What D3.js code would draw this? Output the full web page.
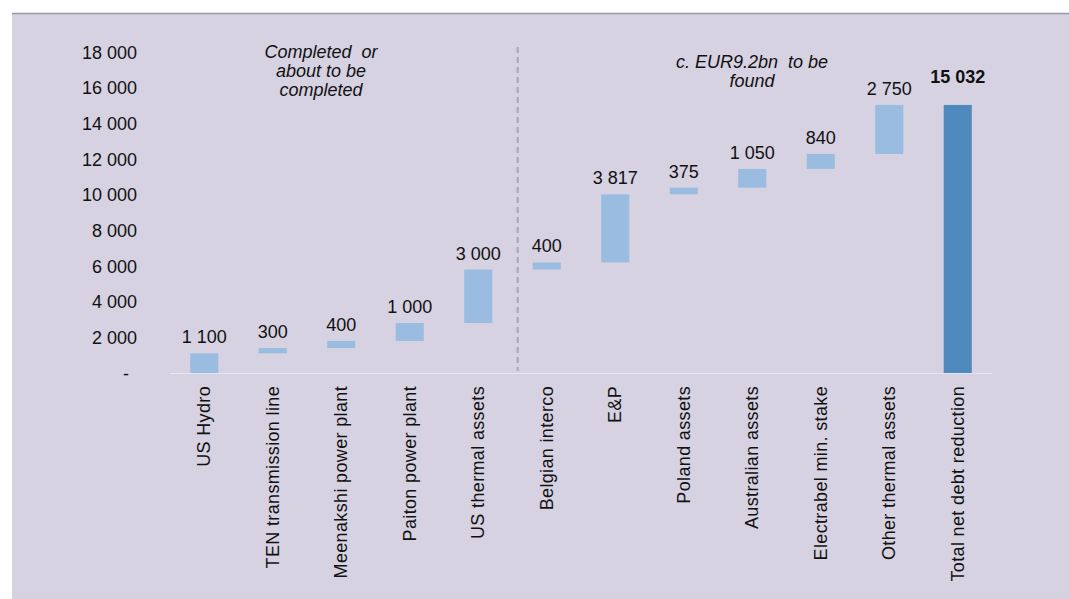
<!DOCTYPE html>
<html>
<head>
<meta charset="utf-8">
<script src="https://cdn.jsdelivr.net/npm/d3@7/dist/d3.min.js"></script>
<style>
  html, body { margin: 0; padding: 0; background: #ffffff; }
  svg { display: block; }
  text { font-family: "Liberation Sans", Arial, sans-serif; fill: #111111; }
</style>
</head>
<body>
<svg id="chart" width="1069" height="599"></svg>
<script>
// Disposal steps (EUR m) and the resulting total
const categories = [
  "US Hydro", "TEN transmission line", "Meenakshi power plant", "Paiton power plant",
  "US thermal assets", "Belgian interco", "E&P", "Poland assets",
  "Australian assets", "Electrabel min. stake", "Other thermal assets", "Total net debt reduction"
];
const stepValues = [1100, 300, 400, 1000, 3000, 400, 3817, 375, 1050, 840, 2750];
const totalValue = 15032;
const yTicks = [0, 2000, 4000, 6000, 8000, 10000, 12000, 14000, 16000, 18000];
const leftNote = ["Completed  or", "about to be", "completed"];
const rightNote = ["c. EUR9.2bn  to be", "found"];
const dividerAfter = 4; // index of the last "completed" category

const fmt = d3.formatLocale({ decimal: ".", thousands: "\u00a0", grouping: [3], currency: ["", ""] }).format(",");

// Build waterfall segments
let run = 0;
const bars = stepValues.map((v, i) => {
  const b = { cat: categories[i], start: run, end: run + v, value: v, total: false };
  run += v;
  return b;
});
bars.push({ cat: categories[categories.length - 1], start: 0, end: totalValue, value: totalValue, total: true });

const svg = d3.select("#chart");

// Panel background and top rule
svg.append("rect").attr("x", 12).attr("y", 13).attr("width", 1057).attr("height", 586).attr("fill", "#d6d2e2");
svg.append("line").attr("x1", 12).attr("x2", 1069).attr("y1", 13.5).attr("y2", 13.5)
  .attr("stroke", "#9a94ae").attr("stroke-width", 1.5);

const x = d3.scaleBand().domain(categories).range([170, 992]).paddingInner(0.59).paddingOuter(0.295);
const y = d3.scaleLinear().domain([0, 18000]).range([373, 52]);

// Y axis labels
const yAxis = svg.append("g").attr("transform", "translate(137,0)")
  .call(d3.axisLeft(y).tickValues(yTicks).tickSize(0).tickPadding(0)
    .tickFormat(d => d === 0 ? "-" : fmt(d)));
yAxis.select(".domain").remove();
yAxis.selectAll("text").attr("font-size", 18).attr("font-family", "Liberation Sans, Arial, sans-serif")
  .attr("fill", "#111").attr("dy", "0.35em")
  .attr("dx", d => d === 0 ? -8 : 0);

// Baseline
svg.append("line").attr("x1", 170).attr("x2", 992).attr("y1", 373.5).attr("y2", 373.5)
  .attr("stroke", "#e6e4ec").attr("stroke-width", 1.2);

// Divider between completed and pending disposals
const divX = x(categories[dividerAfter + 1]) - 15;
svg.append("line").attr("x1", divX).attr("x2", divX).attr("y1", 47).attr("y2", 371)
  .attr("stroke", "#a9a7ae").attr("stroke-width", 2).attr("stroke-dasharray", "6,4");

// Bars
svg.append("g").selectAll("rect").data(bars).join("rect")
  .attr("x", d => x(d.cat))
  .attr("width", x.bandwidth())
  .attr("y", d => y(d.end))
  .attr("height", d => y(d.start) - y(d.end))
  .attr("fill", d => d.total ? "#4e8abd" : "#9bbce1");

// Value labels
svg.append("g").selectAll("text").data(bars).join("text")
  .attr("x", d => x(d.cat) + x.bandwidth() / 2)
  .attr("y", d => y(d.end) - (d.total ? 22 : 10))
  .attr("text-anchor", "middle")
  .attr("font-size", 18)
  .attr("font-weight", d => d.total ? "bold" : "normal")
  .text(d => fmt(d.value));

// Category labels, rotated
svg.append("g").selectAll("text").data(categories).join("text")
  .attr("transform", d => `translate(${x(d) + x.bandwidth() / 2 + 6},386) rotate(-90)`)
  .attr("text-anchor", "end")
  .attr("font-size", 18)
  .attr("letter-spacing", 0.35)
  .text(d => d);

// Section notes
svg.append("g").selectAll("text").data(leftNote).join("text")
  .attr("x", 321).attr("y", (d, i) => 58 + i * 19)
  .attr("text-anchor", "middle").attr("font-size", 18).attr("font-style", "italic")
  .attr("xml:space", "preserve")
  .text(d => d);
svg.append("g").selectAll("text").data(rightNote).join("text")
  .attr("x", 752).attr("y", (d, i) => 68 + i * 19)
  .attr("text-anchor", "middle").attr("font-size", 18).attr("font-style", "italic")
  .attr("xml:space", "preserve")
  .text(d => d);
</script>
</body>
</html>
